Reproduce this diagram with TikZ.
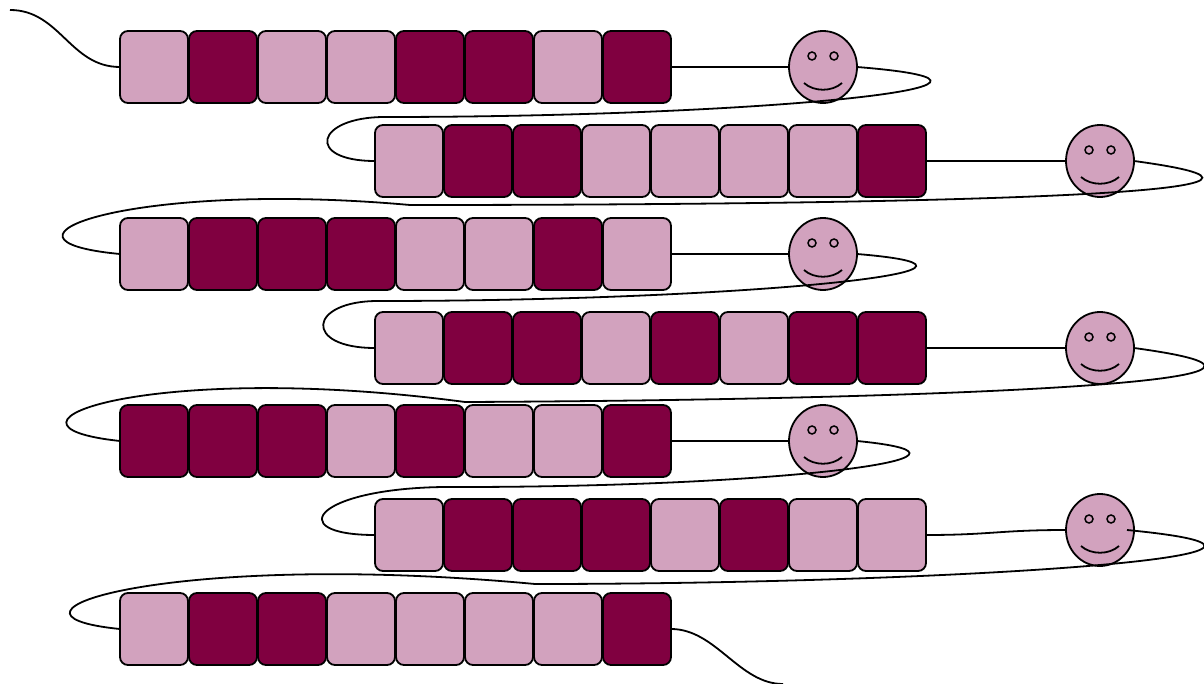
\documentclass[tikz,border=0pt]{standalone}
\usetikzlibrary{shapes.geometric,calc}
\definecolor{lightc}{RGB}{210,162,190}
\definecolor{darkc}{RGB}{128,0,64}
\begin{document}
\begin{tikzpicture}[x=1pt,y=-1pt,
  blk/.style={draw=black, line width=1.8pt, rounded corners=8pt, minimum width=68pt, minimum height=72pt, inner sep=0pt, outer sep=0pt},
  boxL/.style={blk, fill=lightc},
  boxD/.style={blk, fill=darkc},
  face/.style={ellipse, draw=black, line width=1.8pt, fill=lightc, minimum width=68pt, minimum height=72pt, inner sep=0pt, outer sep=0pt},
  wire/.style={draw=black, line width=1.8pt},
  eye/.style={draw=black, line width=1.5pt, fill=lightc},
  smile/.style={draw=black, line width=1.8pt}]
\useasboundingbox (0,0) rectangle (1204,684);
% rows of blocks
\foreach \r/\y/\x/\cols in {
  1/67/154/{L,D,L,L,D,D,L,D},
  2/161/409/{L,D,D,L,L,L,L,D},
  3/254/154/{L,D,D,D,L,L,D,L},
  4/348/409/{L,D,D,L,D,L,D,D},
  5/441/154/{D,D,D,L,D,L,L,D},
  6/535/409/{L,D,D,D,L,D,L,L},
  7/629/154/{L,D,D,L,L,L,L,D}}{
  \foreach \c [count=\i] in \cols {
    \node[box\c] (r\r b\i) at ({\x+69*(\i-1)},\y) {};
  }
}
% smileys
\node[face] (s1) at (823,67) {};
\node[face] (s2) at (1100,161) {};
\node[face] (s3) at (823,254) {};
\node[face] (s4) at (1100,348) {};
\node[face] (s5) at (823,441) {};
\node[face] (s6) at (1100,530) {};
\foreach \s in {s1,s2,s3,s4,s5,s6}{
  \begin{scope}[shift={(\s.center)}]
    \draw[eye] (-11,-11) circle (4pt);
    \draw[eye] (11,-11) circle (4pt);
    \draw[smile] (-19,16) .. controls (-9,25) and (9,25) .. (19,16);
  \end{scope}
}
% free ends and joints
\coordinate (st) at (10,10);
\coordinate (en) at (783,684);
\coordinate (m1) at (385,117);
\coordinate (m2) at (410,205);
\coordinate (m3) at (378,301);
\coordinate (m4) at (465,402);
\coordinate (m5) at (460,487);
\coordinate (m6) at (535,584);
\coordinate (s6o) at (1127,530);
% tails
\draw[wire] (st) .. controls (60,10) and (70,67) .. (r1b1.west);
\draw[wire] (r7b8.east) .. controls (716,629) and (739,684) .. (en);
% row to smiley
\draw[wire] (r1b8.east) -- (s1.west);
\draw[wire] (r2b8.east) -- (s2.west);
\draw[wire] (r3b8.east) -- (s3.west);
\draw[wire] (r4b8.east) -- (s4.west);
\draw[wire] (r5b8.east) -- (s5.west);
\draw[wire] (r6b8.east) .. controls (990,535) and (1000,530) .. (s6.west);
% loops from smiley to next row
\draw[wire] (s1.east) .. controls (1080,85) and (760,117) .. (m1)
  .. controls (315,117) and (305,161) .. (r2b1.west);
\draw[wire] (s2.east) .. controls (1385,195) and (900,205) .. (m2)
  .. controls (130,180) and (-30,240) .. (r3b1.west);
\draw[wire] (s3.east) .. controls (1050,270) and (740,301) .. (m3)
  .. controls (308,301) and (303,348) .. (r4b1.west);
\draw[wire] (s4.east) .. controls (1385,382) and (920,400) .. (m4)
  .. controls (150,360) and (-30,425) .. (r5b1.west);
\draw[wire] (s5.east) .. controls (1020,457) and (780,487) .. (m5)
  .. controls (315,485) and (280,535) .. (r6b1.west);
\draw[wire] (s6o) .. controls (1385,555) and (950,584) .. (m6)
  .. controls (170,550) and (-30,614) .. (r7b1.west);
\end{tikzpicture}
\end{document}
